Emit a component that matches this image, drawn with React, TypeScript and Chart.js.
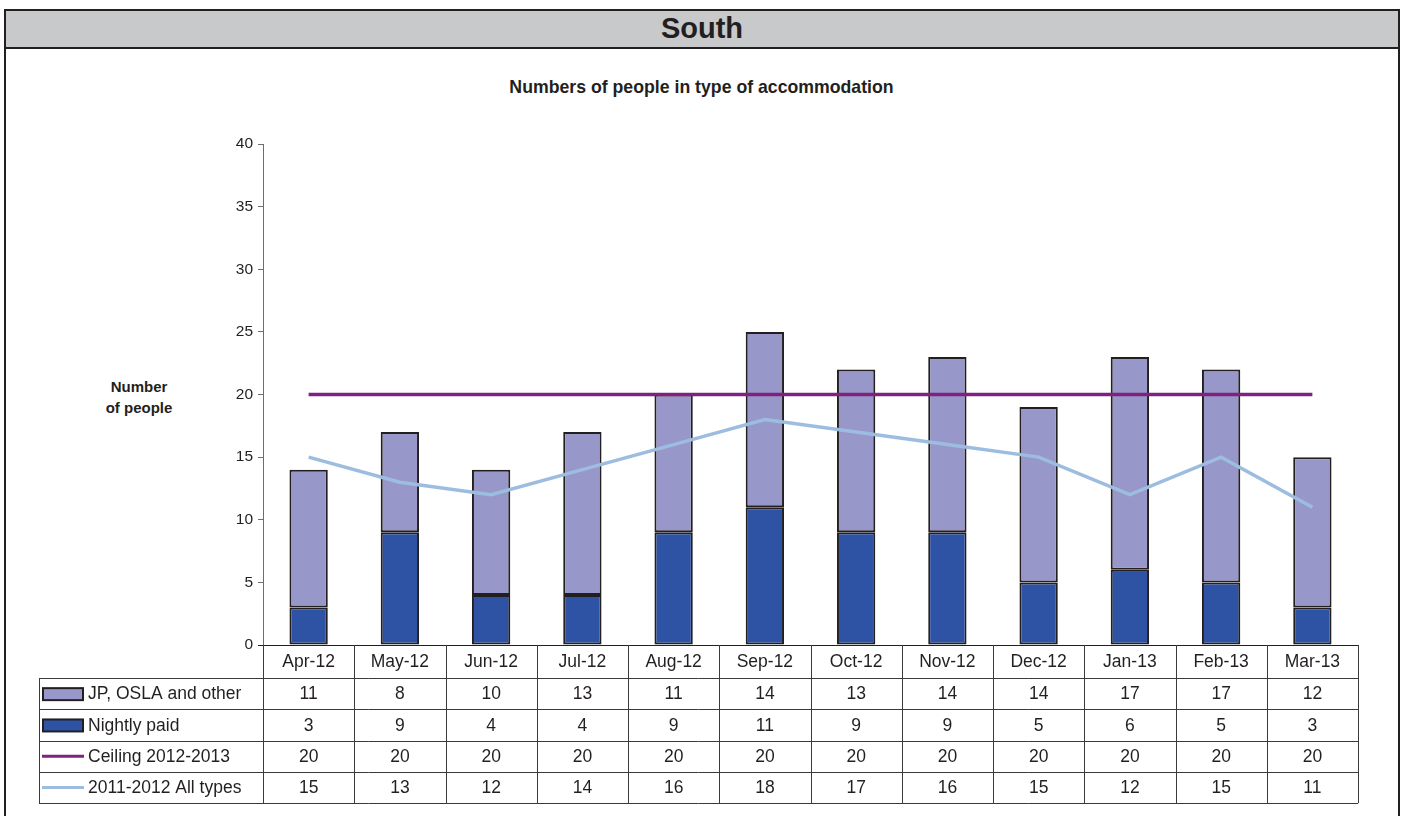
import React, { useEffect, useRef } from 'react';
import { Chart, registerables } from 'chart.js';

Chart.register(...registerables);

const categories = ['Apr-12', 'May-12', 'Jun-12', 'Jul-12', 'Aug-12', 'Sep-12', 'Oct-12', 'Nov-12', 'Dec-12', 'Jan-13', 'Feb-13', 'Mar-13'];
const jpOslaOther = [11, 8, 10, 13, 11, 14, 13, 14, 14, 17, 17, 12];
const nightlyPaid = [3, 9, 4, 4, 9, 11, 9, 9, 5, 6, 5, 3];
const ceiling20122013 = [20, 20, 20, 20, 20, 20, 20, 20, 20, 20, 20, 20];
const allTypes20112012 = [15, 13, 12, 14, 16, 18, 17, 16, 15, 12, 15, 11];
const seriesNames = ['JP, OSLA and other', 'Nightly paid', 'Ceiling 2012-2013', '2011-2012 All types'];
const yMin = 0;
const yMax = 40;
const yStep = 5;

const FONT = '"Liberation Sans", Arial, Helvetica, sans-serif';
const INK = '#231f20';
const C_JP = '#9897c9';
const C_NIGHT = '#2f53a4';
const C_CEIL = '#7f2180';
const C_PREV = '#9dbde0';

const tablePlugin = {
  id: 'dataTable',
  afterDraw(chart: any) {
    const ctx = chart.ctx;
    const xs = chart.scales.x;
    const area = chart.chartArea;
    const n = categories.length;
    const step = xs.getPixelForValue(1) - xs.getPixelForValue(0);
    const left = xs.getPixelForValue(0) - step / 2;
    const right = xs.getPixelForValue(n - 1) + step / 2;
    const top = area.bottom;
    const headH = 33;
    const rowH = 31.3;
    const legendLeft = 39;
    const rowsTop = top + headH;
    const bottom = rowsTop + rowH * 4;

    ctx.save();
    ctx.strokeStyle = INK;
    ctx.lineWidth = 1;
    ctx.beginPath();
    ctx.moveTo(left - 5, Math.round(top) + 0.5);
    ctx.lineTo(right, Math.round(top) + 0.5);
    ctx.stroke();

    ctx.strokeStyle = '#3a3a3a';
    ctx.beginPath();
    for (let i = 0; i <= n; i++) {
      const x = Math.round(left + step * i) + 0.5;
      ctx.moveTo(x, top);
      ctx.lineTo(x, bottom);
    }
    ctx.moveTo(legendLeft + 0.5, rowsTop);
    ctx.lineTo(legendLeft + 0.5, bottom);
    for (let r = 0; r <= 4; r++) {
      const y = Math.round(rowsTop + rowH * r) + 0.5;
      ctx.moveTo(legendLeft, y);
      ctx.lineTo(right, y);
    }
    ctx.stroke();

    ctx.fillStyle = INK;
    ctx.font = `17.5px ${FONT}`;
    ctx.textBaseline = 'middle';
    ctx.textAlign = 'center';
    for (let i = 0; i < n; i++) {
      ctx.fillText(categories[i], xs.getPixelForValue(i), top + headH / 2 + 1);
    }
    const rows = [jpOslaOther, nightlyPaid, ceiling20122013, allTypes20112012];
    rows.forEach((vals, r) => {
      const cy = rowsTop + rowH * r + rowH / 2 + 1;
      ctx.textAlign = 'center';
      ctx.fillStyle = INK;
      vals.forEach((v, i) => ctx.fillText(String(v), xs.getPixelForValue(i), cy));
      const kx = 43;
      const kw = 40;
      if (r < 2) {
        ctx.fillStyle = r === 0 ? C_JP : C_NIGHT;
        ctx.fillRect(kx, cy - 6.5, kw, 12);
        ctx.strokeStyle = INK;
        ctx.lineWidth = 2;
        ctx.strokeRect(kx, cy - 6.5, kw, 12);
      } else {
        ctx.strokeStyle = r === 2 ? C_CEIL : C_PREV;
        ctx.lineWidth = 3;
        ctx.beginPath();
        ctx.moveTo(kx - 1, cy - 1);
        ctx.lineTo(kx + kw + 1, cy - 1);
        ctx.stroke();
      }
      ctx.fillStyle = INK;
      ctx.textAlign = 'left';
      ctx.fillText(seriesNames[r], 88, cy);
    });
    ctx.restore();
  },
};

export default function App() {
  const ref = useRef<HTMLCanvasElement | null>(null);

  useEffect(() => {
    document.body.style.overflow = 'hidden';
    const canvas = ref.current;
    if (!canvas) return;
    Chart.defaults.font.family = FONT;
    const chart = new Chart(canvas, {
      type: 'bar',
      data: {
        labels: categories,
        datasets: [
          {
            type: 'line',
            label: seriesNames[2],
            data: ceiling20122013,
            borderColor: C_CEIL,
            borderWidth: 3.5,
            pointRadius: 0,
            tension: 0,
            stack: 'ceiling',
            order: 0,
          } as any,
          {
            type: 'line',
            label: seriesNames[3],
            data: allTypes20112012,
            borderColor: C_PREV,
            borderWidth: 3.5,
            pointRadius: 0,
            tension: 0,
            stack: 'prev',
            order: 1,
          } as any,
          {
            type: 'bar',
            label: seriesNames[1],
            data: nightlyPaid,
            backgroundColor: C_NIGHT,
            borderColor: INK,
            borderWidth: 2,
            borderSkipped: false,
            stack: 'bars',
            barPercentage: 0.42,
            categoryPercentage: 1,
            order: 2,
          },
          {
            type: 'bar',
            label: seriesNames[0],
            data: jpOslaOther,
            backgroundColor: C_JP,
            borderColor: INK,
            borderWidth: 2,
            borderSkipped: false,
            stack: 'bars',
            barPercentage: 0.42,
            categoryPercentage: 1,
            order: 3,
          },
        ],
      },
      options: {
        responsive: false,
        animation: false,
        devicePixelRatio: 1,
        layout: { padding: { left: 200, right: 43, top: 144, bottom: 171 } },
        plugins: {
          legend: { display: false },
          title: { display: false },
          tooltip: { enabled: false },
        },
        scales: {
          x: {
            display: false,
            stacked: true,
            offset: true,
          },
          y: {
            stacked: true,
            min: yMin,
            max: yMax,
            ticks: {
              stepSize: yStep,
              padding: 5,
              color: INK,
              font: { size: 15.5, family: FONT },
            },
            grid: {
              drawOnChartArea: false,
              drawTicks: true,
              tickLength: 5,
              color: '#6d6e70',
            },
            border: { display: true, color: '#6d6e70', width: 1 },
            afterFit(scale: any) {
              scale.width = 63;
            },
          },
        },
      },
      plugins: [tablePlugin],
    });
    return () => chart.destroy();
  }, []);

  return (
    <div style={{ fontFamily: FONT, color: INK }}>
      <div
        style={{
          position: 'absolute',
          left: 4,
          top: 9,
          width: 1396,
          height: 807,
          boxSizing: 'border-box',
          borderTop: `2px solid ${INK}`,
          borderLeft: `2px solid ${INK}`,
          borderRight: `2px solid ${INK}`,
          background: '#fff',
        }}
      >
        <div
          style={{
            height: 36,
            background: '#c8c9cb',
            borderBottom: `2px solid ${INK}`,
            textAlign: 'center',
            fontWeight: 'bold',
            fontSize: 29,
            lineHeight: '36px',
          }}
        >
          <span style={{ position: 'relative', top: -1 }}>South</span>
        </div>
      </div>
      <div
        style={{
          position: 'absolute',
          left: 0,
          top: 77,
          width: 1403,
          textAlign: 'center',
          fontWeight: 'bold',
          fontSize: 17.7,
          lineHeight: '20px',
        }}
      >
        Numbers of people in type of accommodation
      </div>
      <div
        style={{
          position: 'absolute',
          left: 79,
          top: 376,
          width: 120,
          textAlign: 'center',
          fontWeight: 'bold',
          fontSize: 15,
          lineHeight: '21px',
        }}
      >
        Number
        <br />
        of people
      </div>
      <canvas
        ref={ref}
        width={1401}
        height={816}
        style={{ position: 'absolute', left: 0, top: 0, width: 1401, height: 816, display: 'block' }}
      />
    </div>
  );
}
